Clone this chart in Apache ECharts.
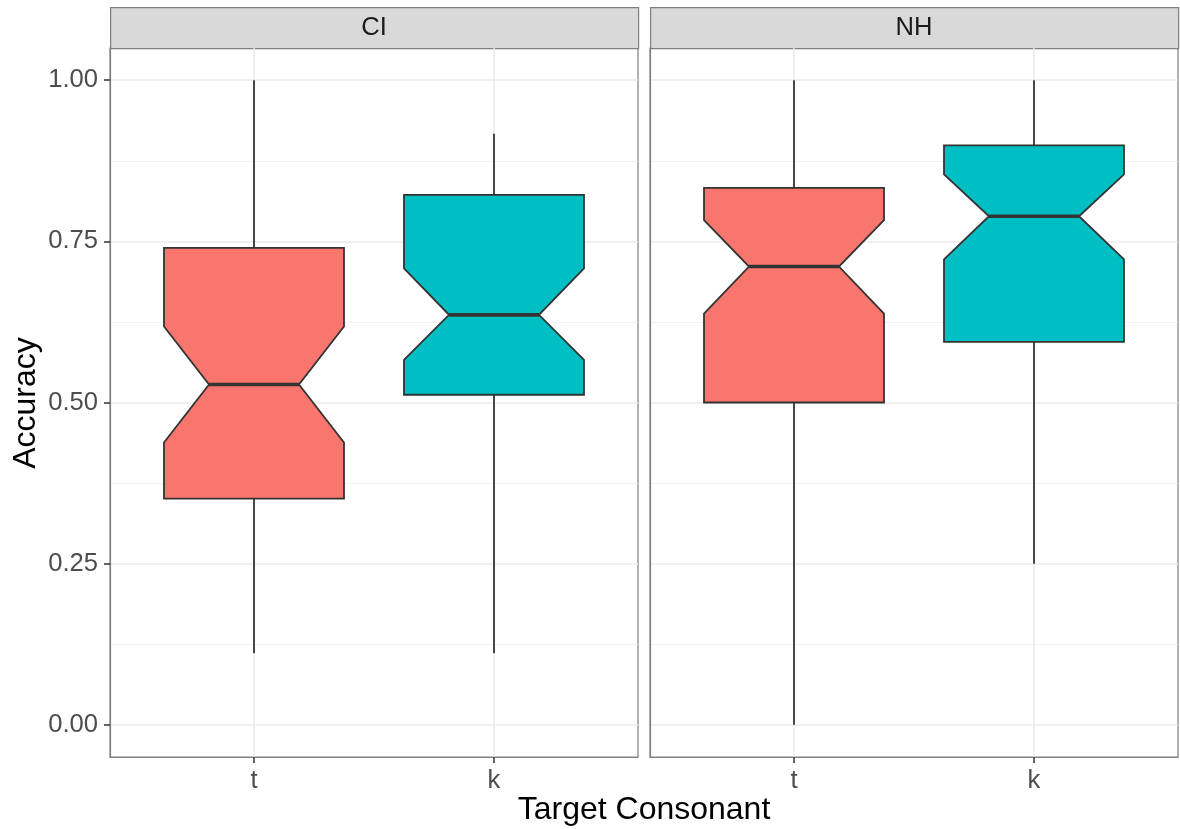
<!DOCTYPE html>
<html>
<head>
<meta charset="utf-8">
<script src="https://cdn.jsdelivr.net/npm/echarts@6/dist/echarts.min.js"></script>
<style>
  html, body { margin: 0; padding: 0; background: #ffffff; }
  #chart { width: 1180px; height: 829px; }
</style>
</head>
<body>
<div id="chart"></div>
<script>
// Facet panels and the consonant categories on each x axis
const panels = ['CI', 'NH'];
const categories = ['t', 'k'];

// Notched box statistics per box:
// [whisker low, Q1, notch low, median, notch high, Q3, whisker high]
const ciT = [0.111, 0.351, 0.438, 0.528, 0.618, 0.740, 1.000];
const ciK = [0.111, 0.512, 0.566, 0.636, 0.708, 0.822, 0.917];
const nhT = [0.000, 0.500, 0.638, 0.711, 0.783, 0.833, 1.000];
const nhK = [0.250, 0.594, 0.722, 0.789, 0.854, 0.899, 1.000];

// Y axis tick values (major) and minor gridline values
const yTicks = [0, 0.25, 0.5, 0.75, 1];
const yMinor = [0.125, 0.375, 0.625, 0.875];
const Y_MIN = -0.05, Y_MAX = 1.05;

const fills = ['#F8766D', '#00BFC4'];
const panelBoxes = [[ciT, ciK], [nhT, nhK]];

const FONT = '"Liberation Sans", Arial, sans-serif';
const PANEL_W = 528, PANEL_TOP = 48, PANEL_H = 709;
const panelLeft = [110, 650];
const BORDER = '#7f7f7f';

function renderNotchedBox(params, api) {
  const x = api.value(0);
  const v = [1, 2, 3, 4, 5, 6, 7].map(i => api.value(i));
  const colorIdx = api.value(8);
  const hw = 0.375, nw = 0.1875;
  const [wLo, q1, nLo, med, nHi, q3, wHi] = v;
  const P = (dx, y) => api.coord([x + dx, y]);
  const poly = [
    P(-hw, q3), P(hw, q3), P(hw, nHi), P(nw, med), P(hw, nLo),
    P(hw, q1), P(-hw, q1), P(-hw, nLo), P(-nw, med), P(-hw, nHi)
  ];
  const lineStyle = { stroke: '#333333', lineWidth: 1.8 };
  const base = P(0, Y_MIN);
  return {
    type: 'group',
    children: [
      // category tick below the panel
      { type: 'line', shape: { x1: base[0], y1: base[1], x2: base[0], y2: base[1] + 6 }, style: { stroke: '#333333', lineWidth: 1.5 } },
      { type: 'line', shape: { x1: P(0, q3)[0], y1: P(0, q3)[1], x2: P(0, wHi)[0], y2: P(0, wHi)[1] }, style: lineStyle },
      { type: 'line', shape: { x1: P(0, wLo)[0], y1: P(0, wLo)[1], x2: P(0, q1)[0], y2: P(0, q1)[1] }, style: lineStyle },
      { type: 'polygon', shape: { points: poly }, style: { fill: fills[colorIdx], stroke: '#333333', lineWidth: 1.8, lineJoin: 'miter' } },
      { type: 'line', shape: { x1: P(-nw, med)[0], y1: P(-nw, med)[1], x2: P(nw, med)[0], y2: P(nw, med)[1] }, style: { stroke: '#333333', lineWidth: 3.6 } }
    ]
  };
}

const grids = [], xAxes = [], yAxes = [], series = [], graphics = [];

panels.forEach((name, p) => {
  grids.push({
    left: panelLeft[p], top: PANEL_TOP, width: PANEL_W, height: PANEL_H,
    show: true, borderColor: BORDER, borderWidth: 1.2, backgroundColor: '#ffffff'
  });
  xAxes.push({
    type: 'value', gridIndex: p, min: 0.4, max: 2.6, position: 'bottom',
    axisLine: { show: true, onZero: false, lineStyle: { color: BORDER, width: 1.2 } },
    axisTick: { show: false, customValues: [1, 2] },
    axisLabel: {
      show: true, customValues: [1, 2], margin: 11,
      formatter: v => categories[Math.round(v) - 1] || '',
      color: '#4d4d4d', fontSize: 25.6, fontFamily: FONT
    },
    splitLine: { show: true, lineStyle: { color: '#ebebeb', width: 1.5 } }
  });
  // major y gridlines, labels on the first panel only
  yAxes.push({
    type: 'value', gridIndex: p, min: Y_MIN, max: Y_MAX, position: 'left',
    axisLine: { show: true, onZero: false, lineStyle: { color: BORDER, width: 1.2 } },
    axisTick: { show: p === 0, inside: false, customValues: yTicks, length: 6, lineStyle: { color: '#333333', width: 1.5 } },
    axisLabel: {
      show: p === 0, customValues: yTicks, margin: 12,
      formatter: v => v.toFixed(2),
      color: '#4d4d4d', fontSize: 25.6, fontFamily: FONT
    },
    splitLine: { show: true, lineStyle: { color: '#ebebeb', width: 1.5 } }
  });
  // minor y gridlines
  yAxes.push({
    type: 'value', gridIndex: p, min: Y_MIN, max: Y_MAX, position: 'left',
    axisLine: { show: false, onZero: false },
    axisTick: { show: false, customValues: yMinor },
    axisLabel: { show: false, customValues: yMinor },
    splitLine: { show: true, lineStyle: { color: '#f2f2f2', width: 1 } },
    z: 0
  });

  const data = panelBoxes[p].map((box, i) => [i + 1, ...box, i]);
  series.push({
    type: 'custom', name: name, xAxisIndex: p, yAxisIndex: p * 2,
    renderItem: renderNotchedBox, clip: false,
    encode: { x: 0, y: [1, 7] },
    data: data, z: 5, silent: true
  });

  // facet strip
  graphics.push({
    type: 'rect', left: panelLeft[p], top: 7,
    shape: { width: PANEL_W, height: 41 },
    style: { fill: '#d9d9d9', stroke: BORDER, lineWidth: 1.2 }
  });
  graphics.push({
    type: 'text', x: panelLeft[p] + PANEL_W / 2, y: 28,
    style: { text: name, fill: '#1a1a1a', font: '25.6px ' + FONT, align: 'center', verticalAlign: 'middle' }
  });
});

// axis titles
graphics.push({
  type: 'text', x: (panelLeft[0] + panelLeft[1] + PANEL_W) / 2, y: 810,
  style: { text: 'Target Consonant', fill: '#000000', font: '32px ' + FONT, align: 'center', verticalAlign: 'middle' }
});
graphics.push({
  type: 'text', x: 26, y: 403, rotation: Math.PI / 2,
  style: { text: 'Accuracy', fill: '#000000', font: '32px ' + FONT, align: 'center', verticalAlign: 'middle' }
});

const chart = echarts.init(document.getElementById('chart'), null, { renderer: 'canvas' });
chart.setOption({
  animation: false,
  backgroundColor: '#ffffff',
  grid: grids,
  xAxis: xAxes,
  yAxis: yAxes,
  series: series,
  graphic: graphics
});
</script>
</body>
</html>
